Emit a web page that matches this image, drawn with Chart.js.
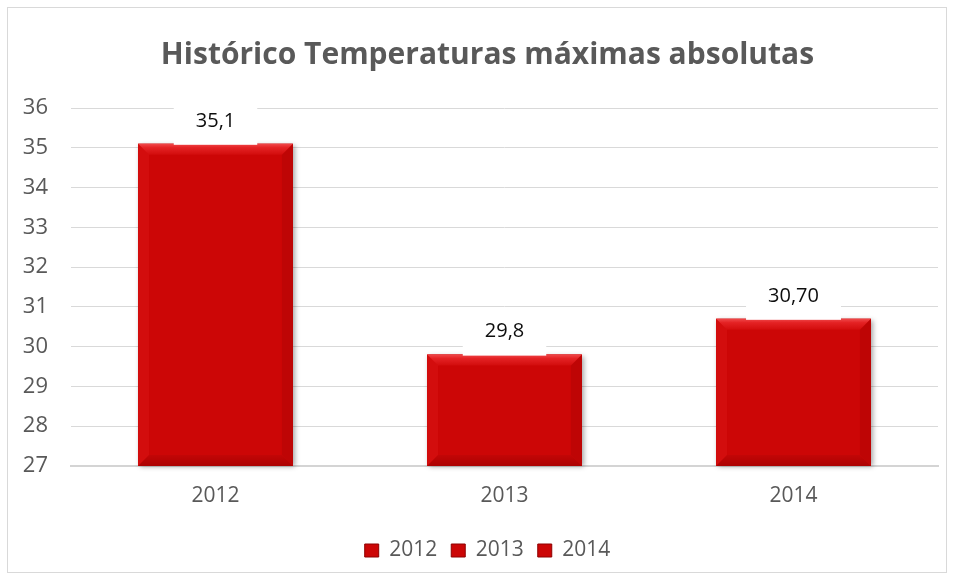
<!DOCTYPE html>
<html><head><meta charset="utf-8">
<script src="https://cdn.jsdelivr.net/npm/chart.js@4.4.0/dist/chart.umd.min.js"></script>
<style>
html,body{margin:0;padding:0;background:#fff;overflow:hidden;}
#wrap{position:absolute;left:7px;top:7px;width:940px;height:566px;border:1px solid #D9D9D9;box-sizing:border-box;background:#fff;}
#box{position:absolute;left:13px;top:0;width:933px;height:563px;}
canvas{display:block;}
</style></head><body>
<div id="wrap"><div id="box"><canvas id="c"></canvas></div></div>
<script>
const chartTitle = 'Histórico Temperaturas máximas absolutas';
const categories = ['2012', '2013', '2014'];
const values = [35.1, 29.8, 30.7];
const valueLabels = ['35,1', '29,8', '30,70'];
const yMin = 27, yMax = 36, yStep = 1;

const FONT = '"Open Sans", Lato, sans-serif';
const BAR = '#CC0606';
const GRAY = '#595959';

function barBox(chart, el) {
  const p = el.getProps(['x', 'y', 'base', 'width'], true);
  const ca = chart.chartArea;
  return {
    x: p.x,
    l: p.x - p.width / 2,
    r: p.x + p.width / 2,
    t: Math.max(p.y, ca.top),
    b: Math.min(p.base, ca.bottom)
  };
}

const barDecor = {
  id: 'barDecor',
  beforeDatasetsDraw(chart) {
    const ctx = chart.ctx;
    chart.getDatasetMeta(0).data.forEach(el => {
      const q = barBox(chart, el);
      ctx.save();
      ctx.shadowColor = 'rgba(0,0,0,0.35)';
      ctx.shadowBlur = 5;
      ctx.shadowOffsetX = 2;
      ctx.shadowOffsetY = 1;
      ctx.fillStyle = BAR;
      ctx.fillRect(q.l, q.t, q.r - q.l, q.b - q.t);
      ctx.restore();
    });
  },
  afterDatasetsDraw(chart) {
    const ctx = chart.ctx;
    const d = 11;
    chart.getDatasetMeta(0).data.forEach((el, i) => {
      const q = barBox(chart, el);
      const l = q.l, r = q.r, t = q.t, bt = q.b;
      ctx.save();
      let g = ctx.createLinearGradient(0, t, 0, t + d);
      g.addColorStop(0, '#F0484A');
      g.addColorStop(0.35, '#E42224');
      g.addColorStop(1, '#D20C0C');
      ctx.fillStyle = g;
      ctx.beginPath();
      ctx.moveTo(l, t); ctx.lineTo(r, t); ctx.lineTo(r - d, t + d); ctx.lineTo(l + d, t + d); ctx.closePath();
      ctx.fill();
      ctx.fillStyle = 'rgba(255,60,60,0.14)';
      ctx.beginPath();
      ctx.moveTo(l, t); ctx.lineTo(l + d, t + d); ctx.lineTo(l + d, bt - d); ctx.lineTo(l, bt); ctx.closePath();
      ctx.fill();
      ctx.fillStyle = 'rgba(90,0,0,0.12)';
      ctx.beginPath();
      ctx.moveTo(r, t); ctx.lineTo(r - d, t + d); ctx.lineTo(r - d, bt - d); ctx.lineTo(r, bt); ctx.closePath();
      ctx.fill();
      g = ctx.createLinearGradient(0, bt - d, 0, bt);
      g.addColorStop(0, '#C20606');
      g.addColorStop(1, '#AC0202');
      ctx.fillStyle = g;
      ctx.beginPath();
      ctx.moveTo(l, bt); ctx.lineTo(r, bt); ctx.lineTo(r - d, bt - d); ctx.lineTo(l + d, bt - d); ctx.closePath();
      ctx.fill();
      ctx.restore();

      const txt = valueLabels[i];
      ctx.save();
      ctx.font = '20px ' + FONT;
      const tw = ctx.measureText(txt).width;
      const cy = t - 23;
      ctx.fillStyle = '#FFFFFF';
      ctx.fillRect(q.x - tw / 2 - 22, cy - 15, tw + 44, t - (cy - 15) + 1);
      ctx.fillStyle = '#0D0D0D';
      ctx.textAlign = 'center';
      ctx.textBaseline = 'middle';
      ctx.fillText(txt, q.x, cy);
      ctx.restore();
    });
  }
};

Chart.defaults.font.family = FONT;

new Chart(document.getElementById('c'), {
  type: 'bar',
  data: {
    labels: categories,
    datasets: [{
      label: 'Temperatura',
      data: values,
      backgroundColor: BAR,
      borderWidth: 0,
      barPercentage: 0.536,
      categoryPercentage: 1,
      yAxisID: 'y'
    }]
  },
  options: {
    responsive: true,
    maintainAspectRatio: false,
    animation: false,
    layout: { padding: 0 },
    scales: {
      x: {
        grid: { display: false },
        border: { color: '#D4D4D4', width: 2 },
        ticks: { color: GRAY, font: { size: 21 }, padding: 9 },
        afterFit(s) { s.height = 60; }
      },
      y: {
        position: 'left',
        min: yMin, max: yMax,
        grid: { color: '#D9D9D9', lineWidth: 1, drawTicks: false },
        border: { display: false },
        ticks: { stepSize: yStep, color: GRAY, font: { size: 22 }, padding: 23 },
        afterFit(s) { s.width = 50; }
      },
      yRightSpace: {
        position: 'right',
        display: true,
        grid: { display: false },
        border: { display: false },
        ticks: { display: false },
        afterFit(s) { s.width = 16; }
      }
    },
    plugins: {
      title: {
        display: true,
        text: chartTitle,
        color: GRAY,
        font: { size: 30, weight: 'bold' },
        padding: { top: 29, bottom: 35 }
      },
      legend: {
        position: 'bottom',
        maxHeight: 48,
        onClick: null,
        labels: {
          boxWidth: 14, boxHeight: 13, padding: 14,
          color: GRAY, font: { size: 21 },
          generateLabels() {
            return categories.map((c, i) => ({
              text: c, fillStyle: BAR, strokeStyle: '#8E0000', lineWidth: 1,
              hidden: false, index: i, fontColor: GRAY
            }));
          }
        }
      },
      tooltip: { enabled: false }
    }
  },
  plugins: [barDecor]
});
</script>
</body></html>
